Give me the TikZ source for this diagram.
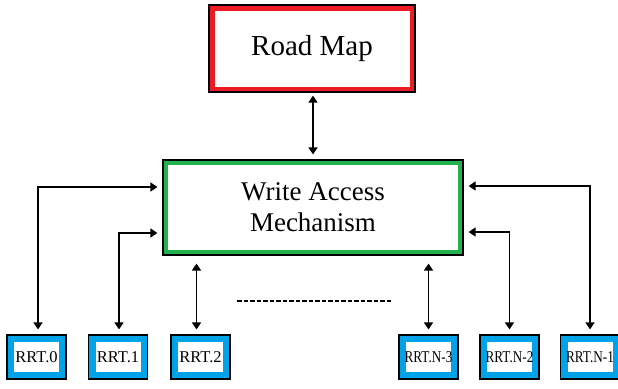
\documentclass[tikz,border=0pt]{standalone}
\usepackage{fontspec}
\setmainfont{Liberation Serif}
\usepackage{graphicx}
\usetikzlibrary{arrows.meta}
\definecolor{rmred}{RGB}{237,28,36}
\definecolor{wgreen}{RGB}{34,177,76}
\definecolor{rblue}{RGB}{0,162,232}
\tikzset{
  framebox/.style 2 args={draw=black, line width=1.2pt, fill=#1, inner sep=0pt,
    path picture={\fill[white] ([shift={(#2,#2)}]path picture bounding box.south west)
      rectangle ([shift={(-#2,-#2)}]path picture bounding box.north east);}},
  rmbox/.style={framebox={rmred}{5.5pt}, minimum width=206pt, minimum height=87pt,
    font=\fontsize{29}{33}\selectfont},
  wambox/.style={framebox={wgreen}{5pt}, minimum width=300pt, minimum height=95pt,
    align=center, font=\fontsize{27}{31}\selectfont},
  rrtbox/.style={framebox={rblue}{7pt}, minimum width=59pt, minimum height=44pt,
    font=\fontsize{16.5}{18}\selectfont},
  biarrow/.style={line width=1.4pt, {Triangle[width=9pt,length=7pt]}-{Triangle[width=9pt,length=7pt]}},
  dots/.style={line width=1.5pt, dash pattern=on 4.5pt off 2pt}
}
\begin{document}
\begin{tikzpicture}[x=1pt,y=-1pt]
\fill[white] (0,0) rectangle (618,388);
\useasboundingbox (0,0) rectangle (618,388);
\node[rmbox] (rm) at (312,48.5) {Road Map};
\node[wambox] (wam) at (313,207.5) {Write Access\\Mechanism};
\node[rrtbox] (r0) at (36.5,357) {RRT.0};
\node[rrtbox] (r1) at (118,357) {RRT.1};
\node[rrtbox] (r2) at (200.5,357) {RRT.2};
\node[rrtbox] (r3) at (428.5,357) {\scalebox{0.8}[1]{RRT.N-3}};
\node[rrtbox] (r4) at (509.5,357) {\scalebox{0.8}[1]{RRT.N-2}};
\node[rrtbox] (r5) at (590,357) {\scalebox{0.8}[1]{RRT.N-1}};
\coordinate (wb) at ([yshift=-8pt]wam.south);
\draw[biarrow] ([shift={(1pt,-3pt)}]rm.south) -- ([yshift=5pt]wam.north);
\draw[biarrow] ([shift={(1.5pt,5pt)}]r0.north) |- ([shift={(-5pt,20.5pt)}]wam.west);
\draw[biarrow] ([shift={(1pt,5pt)}]r1.north) |- ([shift={(-5pt,-25.5pt)}]wam.west);
\draw[biarrow] ([shift={(-4pt,5pt)}]r2.north) -- ([xshift=-4pt]r2.north |- wb);
\draw[biarrow] ([shift={(0pt,5pt)}]r3.north) -- (r3.north |- wb);
\draw[biarrow] ([shift={(0pt,5pt)}]r4.north) |- ([shift={(5pt,-24.5pt)}]wam.east);
\draw[biarrow] ([shift={(0pt,5pt)}]r5.north) |- ([shift={(5pt,21.5pt)}]wam.east);
\coordinate (d1) at (237,301);
\coordinate (d2) at (392,301);
\draw[dots] (d1) -- (d2);
\end{tikzpicture}
\end{document}
